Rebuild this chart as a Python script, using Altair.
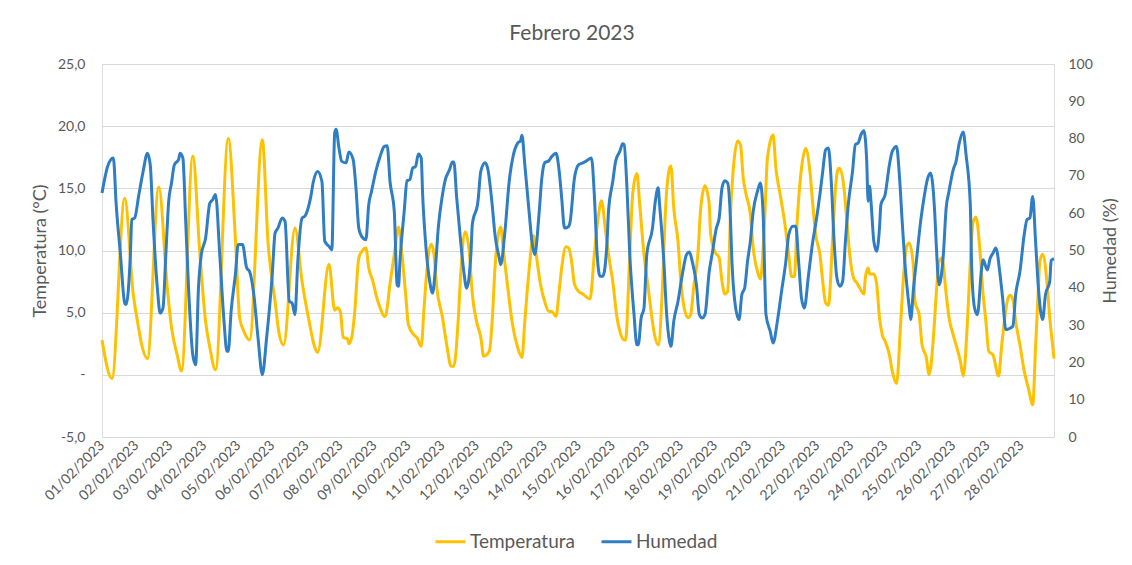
import altair as alt
import pandas as pd

# ---- data (hour index since 01/02/2023 00:00, value) ----
temp_hours = [0, 7, 16, 22, 25, 28, 32, 40, 46, 49, 53, 56, 64, 69, 73, 76, 80, 89, 94, 97, 100, 104,
              113, 117, 122, 125, 128, 136, 141, 146, 150, 152, 160, 164, 166, 168, 170, 173, 174, 176,
              178, 181, 183, 186, 188, 191, 193, 196, 199, 200, 203, 206, 209, 211, 214, 216, 220, 222,
              225, 227, 229, 232, 234, 236, 240, 243, 246, 248, 251, 253, 256, 259, 261, 264, 267, 269,
              273, 275, 277, 281, 283, 286, 289, 293, 296, 298, 301, 304, 306, 309, 312, 315, 317, 320,
              322, 324, 327, 329, 331, 333, 336, 339, 341, 344, 347, 350, 352, 355, 357, 360, 363, 365,
              368, 369, 372, 374, 377, 379, 382, 385, 387, 389, 392, 395, 397, 400, 401, 403, 406, 408,
              410, 413, 415, 417, 420, 422, 425, 428, 429, 432, 435, 437, 439, 441, 443, 445, 448, 450,
              452, 454, 457, 459, 462, 464, 467, 469, 473, 475, 478, 481, 484, 486, 488, 490, 493, 496,
              499, 501, 503, 506, 508, 510, 512, 515, 517, 519, 520, 523, 525, 527, 530, 532, 534, 537,
              538, 540, 541, 544, 546, 548, 550, 552, 555, 557, 560, 563, 565, 567, 569, 572, 573, 576,
              578, 581, 583, 586, 588, 590, 592, 595, 597, 600, 602, 605, 607, 610, 612, 614, 616, 619,
              621, 623, 625, 628, 632, 634, 636, 638, 640, 642, 644, 647, 650, 653, 656, 658, 660, 661,
              663, 666, 668, 670, 671]
temp_values = [2.8, -0.3, 14.2, 6.5, 4.3, 2.4, 1.3, 15.1, 7.0, 3.8, 1.6, 0.3, 17.6, 9.7, 4.3, 2.2, 0.4, 19.0, 11.0, 4.6, 3.5, 2.8,
               18.9, 10.7, 5.9, 3.2, 2.4, 11.8, 7.5, 4.3, 2.2, 1.8, 8.9, 5.2, 5.4, 5.1, 3.0, 2.9, 2.5, 3.0,
               4.9, 9.4, 9.9, 10.2, 8.6, 7.5, 6.5, 5.4, 4.7, 4.8, 7.3, 9.7, 11.9, 10.2, 6.5, 4.0, 3.2, 3.0,
               2.3, 5.4, 8.4, 10.5, 9.7, 7.0, 4.6, 2.4, 0.7, 0.7, 4.3, 8.4, 11.5, 9.7, 6.5, 4.3, 3.0, 1.5,
               1.9, 4.3, 8.6, 11.9, 9.9, 7.0, 4.3, 2.2, 1.4, 4.3, 8.4, 11.2, 9.7, 7.3, 5.9, 5.1, 5.1, 4.7,
               6.5, 8.6, 10.3, 10.2, 9.1, 7.3, 6.7, 6.5, 6.3, 6.1, 9.7, 12.9, 14.0, 11.5, 9.7, 7.5, 4.6, 3.5,
               2.8, 2.8, 9.7, 14.5, 16.2, 13.7, 9.7, 7.0, 5.1, 3.5, 2.4, 7.0, 12.9, 16.6, 16.8, 13.4, 10.7, 7.5,
               5.6, 4.6, 4.9, 7.0, 9.7, 13.4, 15.2, 13.7, 11.3, 9.9, 9.4, 7.5, 6.5, 6.7, 12.9, 16.6, 18.8, 18.5,
               15.8, 14.5, 12.9, 10.2, 8.3, 7.7, 12.4, 17.4, 19.3, 16.6, 14.5, 12.4, 9.7, 7.9, 7.9, 12.4, 16.6, 18.2,
               16.3, 13.7, 11.3, 9.7, 7.5, 5.8, 5.6, 11.0, 15.0, 16.6, 16.6, 15.0, 12.4, 9.7, 7.7, 7.4, 7.0, 6.5,
               7.8, 8.6, 8.1, 8.1, 7.3, 4.6, 3.2, 2.7, 1.6, 0.3, -0.7, 4.3, 8.0, 10.3, 10.6, 8.6, 5.9, 4.8,
               2.4, 1.4, 0.0, 3.0, 6.5, 9.1, 9.4, 6.5, 4.6, 3.2, 2.4, 1.1, -0.1, 4.3, 9.1, 12.3, 12.7, 9.7,
               6.5, 4.3, 1.9, 1.6, -0.1, 2.2, 4.3, 5.9, 6.4, 6.1, 4.3, 2.4, 0.3, -1.1, -2.4, 2.2, 7.0, 9.1,
               9.7, 7.5, 4.6, 2.4, 1.3]

hum_hours = [0, 2, 4, 8, 10, 13, 16, 17, 20, 21, 23, 26, 29, 32, 34, 36, 39, 41, 43, 45, 47, 49, 51, 54,
             55, 57, 59, 61, 64, 66, 68, 70, 73, 76, 78, 80, 83, 86, 88, 89, 91, 94, 96, 99, 102, 104, 107,
             110, 113, 116, 120, 122, 124, 127, 129, 132, 134, 136, 138, 141, 143, 147, 149, 152, 155, 157,
             160, 162, 164, 165, 167, 169, 172, 174, 177, 179, 181, 183, 186, 188, 190, 193, 196, 199, 201,
             203, 206, 208, 209, 210, 213, 215, 217, 219, 221, 223, 225, 226, 228, 231, 233, 235, 237, 240,
             242, 245, 247, 248, 250, 253, 255, 257, 260, 261, 265, 267, 270, 272, 275, 277, 280, 281, 284,
             287, 290, 293, 295, 296, 298, 301, 303, 305, 308, 310, 312, 315, 317, 320, 322, 324, 326, 329,
             330, 333, 336, 339, 341, 345, 347, 349, 351, 353, 356, 357, 360, 362, 365, 367, 368, 370, 372,
             375, 377, 378, 380, 382, 384, 388, 390, 392, 393, 396, 398, 400, 401, 403, 406, 409, 412, 414,
             416, 419, 421, 423, 425, 428, 430, 433, 435, 437, 439, 441, 443, 444, 446, 449, 451, 453, 455,
             457, 459, 462, 464, 466, 468, 471, 473, 476, 479, 482, 484, 487, 489, 491, 493, 495, 498, 501,
             503, 506, 508, 510, 512, 514, 516, 518, 520, 522, 524, 526, 529, 531, 533, 535, 537, 539, 540,
             541, 542, 544, 546, 548, 549, 552, 555, 557, 560, 562, 564, 566, 569, 570, 572, 574, 577, 579,
             582, 584, 587, 588, 590, 593, 595, 597, 600, 602, 604, 607, 609, 612, 613, 615, 617, 620, 621,
             624, 626, 628, 630, 633, 635, 637, 639, 642, 644, 647, 650, 652, 654, 656, 658, 660, 663, 665,
             668, 669, 671]
hum_values = [65.4, 69.4, 72.6, 74.8, 62.3, 48.9, 35.9, 35.5, 48.9, 58.3, 58.7, 65.0, 71.2, 76.1, 73.0, 57.8, 40.0, 33.2, 34.6, 48.9, 63.2, 68.1, 73.0, 74.4,
              76.1, 74.8, 57.8, 40.0, 22.0, 19.4, 40.0, 48.9, 53.3, 62.7, 63.6, 65.0, 48.9, 31.0, 23.0, 23.0, 33.7, 43.5, 51.6, 51.6, 45.3, 44.4, 38.2,
              26.5, 16.7, 26.5, 43.5, 54.7, 56.0, 58.7, 57.8, 36.4, 35.9, 32.8, 47.1, 58.7, 59.2, 64.1, 68.5, 71.2, 68.5, 52.5,
              51.1, 50.2, 81.5, 82.5, 77.5, 73.9, 73.5, 76.4, 74.4, 66.8, 56.0, 53.8, 52.9, 62.3, 65.9, 71.2, 75.2, 77.9, 78.1,
              68.5, 60.5, 40.8, 40.4, 47.1, 60.5, 68.7, 69.0, 72.1, 72.5, 75.9, 74.8, 65.0, 52.5, 41.7, 38.6, 45.3, 56.0, 65.0,
              69.0, 71.7, 73.7, 73.7, 64.1, 51.6, 44.4, 39.9, 48.9, 56.9, 63.2, 71.2, 73.5, 71.7, 62.3, 54.2, 48.0, 46.2, 55.1,
              68.5, 75.7, 78.8, 79.4, 80.9, 73.0, 60.5, 52.5, 48.9, 59.6, 69.4, 73.5, 74.1, 75.2, 76.1, 72.1, 64.1, 56.0, 56.5,
              57.8, 69.4, 73.0, 73.5, 73.9, 74.8, 65.0, 48.9, 43.1, 43.1, 52.5, 60.5, 68.5, 73.9, 76.6, 78.6, 78.4, 66.8, 48.9,
              32.8, 24.7, 24.7, 31.9, 34.6, 48.9, 56.0, 63.2, 66.8, 62.3, 47.1, 32.8, 25.6, 24.3, 31.0, 36.4, 43.5, 48.9, 49.6,
              47.1, 40.8, 32.8, 31.9, 32.8, 44.4, 48.9, 56.0, 58.7, 66.8, 68.7, 68.1, 57.8, 47.1, 36.4, 31.5, 38.2, 40.0, 47.1,
              52.5, 60.5, 65.9, 68.1, 59.6, 32.8, 28.3, 25.2, 31.0, 39.1, 47.1, 54.2, 56.5, 56.5, 47.1, 37.3, 34.6, 43.5, 52.5,
              57.0, 65.0, 71.2, 77.0, 77.5, 68.5, 52.5, 42.6, 40.4, 41.7, 52.5, 62.3, 71.2, 78.4, 78.8, 81.1, 82.1, 73.9, 63.2,
              67.2, 63.2, 52.5, 49.8, 56.0, 62.3, 65.0, 73.0, 76.6, 77.9, 70.3, 57.8, 46.2, 34.6, 31.5, 40.0, 47.1, 57.8, 63.2,
              69.4, 70.8, 59.6, 51.6, 40.8, 48.9, 61.4, 65.9, 71.7, 73.9, 78.4, 81.8, 75.7, 62.3, 45.3, 34.6, 32.8, 45.3, 47.5,
              44.8, 47.9, 49.3, 50.7, 43.5, 36.4, 28.8, 29.0, 29.7, 38.2, 44.4, 54.2, 58.3, 58.7, 64.5, 52.5, 40.0, 31.5, 38.2,
              41.7, 47.3, 47.8]

date_labels = ["01/02/2023", "02/02/2023", "03/02/2023", "04/02/2023", "05/02/2023", "06/02/2023",
               "07/02/2023", "08/02/2023", "09/02/2023", "10/02/2023", "11/02/2023", "12/02/2023",
               "13/02/2023", "14/02/2023", "15/02/2023", "16/02/2023", "17/02/2023", "18/02/2023",
               "19/02/2023", "20/02/2023", "21/02/2023", "22/02/2023", "23/02/2023", "24/02/2023",
               "25/02/2023", "26/02/2023", "27/02/2023", "28/02/2023"]
date_ticks = [24 * i for i in range(len(date_labels))]
temp_ticks = [-5, 0, 5, 10, 15, 20, 25]
hum_ticks = [0, 10, 20, 30, 40, 50, 60, 70, 80, 90, 100]
series = ["Temperatura", "Humedad"]
colors = ["#FFC000", "#2F7EC4"]

temp_df = pd.DataFrame({"hora": temp_hours, "valor": temp_values, "serie": series[0]})
hum_df = pd.DataFrame({"hora": hum_hours, "valor": hum_values, "serie": series[1]})

GREY = "#595959"
FONT = "Lato"

label_array = "[" + ",".join("'" + s + "'" for s in date_labels) + "]"
x_enc = alt.X(
    "hora:Q",
    scale=alt.Scale(domain=[0, 671], nice=False, zero=False),
    axis=alt.Axis(values=date_ticks, labelExpr=label_array + "[round(datum.value/24)]",
                  labelAngle=315, labelAlign="right", labelBaseline="middle", labelPadding=6,
                  grid=False, ticks=False, domain=False, title=None, labelOverlap=False,
                  labelFontSize=14, labelColor=GREY, labelFont=FONT),
)

color_enc = alt.Color(
    "serie:N",
    scale=alt.Scale(domain=series, range=colors),
    legend=alt.Legend(title=None, orient="none", legendX=332, legendY=461, direction="horizontal",
                      symbolType="stroke", symbolSize=900, symbolStrokeWidth=3, labelFontSize=19,
                      labelColor=GREY, labelFont=FONT, columnPadding=20, labelOffset=3, padding=0),
)

temp_line = alt.Chart(temp_df).mark_line(strokeWidth=3, interpolate="monotone").encode(
    x=x_enc,
    y=alt.Y("valor:Q", scale=alt.Scale(domain=[-5, 25], nice=False, zero=False),
            axis=alt.Axis(values=temp_ticks,
                          labelExpr="datum.value == 0 ? '-\u00a0\u00a0\u00a0' : replace(replace(format(datum.value, '.1f'), '.', ','), '\u2212', '-')",
                          title="Temperatura (°C)", titleFontSize=18, titleFontWeight="normal",
                          titleColor=GREY, titleFont=FONT, titleX=-62, titleY=186.5, titleAngle=270,
                          titleAlign="center", titleBaseline="middle",
                          labelFontSize=14, labelColor=GREY, labelFont=FONT, labelPadding=17,
                          grid=True, gridColor="#D9D9D9", gridWidth=1, ticks=False, domain=False)),
    color=color_enc,
)

hum_line = alt.Chart(hum_df).mark_line(strokeWidth=3, interpolate="monotone").encode(
    x=x_enc,
    y=alt.Y("valor:Q", scale=alt.Scale(domain=[0, 100], nice=False, zero=False),
            axis=alt.Axis(orient="right", values=hum_ticks, format="d",
                          title="Humedad (%)", titleFontSize=18, titleFontWeight="normal",
                          titleColor=GREY, titleFont=FONT, titleX=56, titleY=186.5, titleAngle=270,
                          titleAlign="center", titleBaseline="middle",
                          labelFontSize=14, labelColor=GREY, labelFont=FONT, labelPadding=14,
                          grid=False, ticks=False, domain=False)),
    color=color_enc,
)

chart = (
    alt.layer(temp_line, hum_line)
    .resolve_scale(y="independent")
    .properties(
        width=952, height=373,
        title=alt.Title("Febrero 2023", fontSize=21, fontWeight="normal", color=GREY, font=FONT,
                        anchor="middle", dx=-6, dy=29, offset=25, baseline="alphabetic"),
        autosize=alt.AutoSizeParams(type="none"),
        padding={"left": 94, "top": 56, "right": 70, "bottom": 128},
    )
    .configure_view(stroke=None)
    .configure(background="white", font=FONT)
)

chart.save("out.html", embed_options={"renderer": "svg", "actions": False})
